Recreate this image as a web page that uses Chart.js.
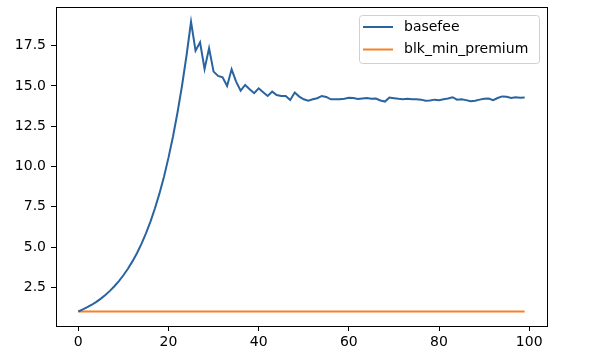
<!DOCTYPE html>
<html>
<head>
<meta charset="utf-8">
<script src="https://cdn.jsdelivr.net/npm/chart.js@4"></script>
<style>
  body { margin: 0; background: #fff; }
  #wrap { width: 600px; height: 352px; }
</style>
</head>
<body>
<div id="wrap"><canvas id="myChart"></canvas></div>
<script>
// block index 0..99
const blocks = Array.from({ length: 100 }, (_, i) => i);

// values
const basefee = [
    1.00, 1.13, 1.27, 1.42, 1.60, 1.80, 2.03, 2.28, 2.57, 2.89,
    3.25, 3.65, 4.11, 4.62, 5.20, 5.85, 6.58, 7.41, 8.33, 9.37,
    10.55, 11.86, 13.35, 15.01, 16.89, 18.98, 17.19, 17.71, 16.05, 17.34,
    15.89, 15.62, 15.54, 15.00, 16.03, 15.27, 14.71, 15.06, 14.79, 14.55,
    14.85, 14.61, 14.38, 14.65, 14.44, 14.38, 14.38, 14.13, 14.59, 14.34,
    14.17, 14.09, 14.17, 14.24, 14.38, 14.32, 14.17, 14.17, 14.17, 14.21,
    14.27, 14.25, 14.19, 14.22, 14.25, 14.20, 14.22, 14.10, 14.03, 14.28,
    14.24, 14.20, 14.18, 14.20, 14.18, 14.17, 14.15, 14.08, 14.10, 14.15,
    14.12, 14.18, 14.22, 14.30, 14.15, 14.18, 14.12, 14.05, 14.08, 14.15,
    14.20, 14.22, 14.12, 14.25, 14.35, 14.33, 14.25, 14.30, 14.27, 14.28
];
const blkMinPremium = [
    1, 1, 1, 1, 1, 1, 1, 1, 1, 1, 1, 1, 1, 1, 1, 1, 1, 1, 1, 1,
    1, 1, 1, 1, 1, 1, 1, 1, 1, 1, 1, 1, 1, 1, 1, 1, 1, 1, 1, 1,
    1, 1, 1, 1, 1, 1, 1, 1, 1, 1, 1, 1, 1, 1, 1, 1, 1, 1, 1, 1,
    1, 1, 1, 1, 1, 1, 1, 1, 1, 1, 1, 1, 1, 1, 1, 1, 1, 1, 1, 1,
    1, 1, 1, 1, 1, 1, 1, 1, 1, 1, 1, 1, 1, 1, 1, 1, 1, 1, 1, 1
];

const xTicks = [0, 20, 40, 60, 80, 100];
const yTicks = [2.5, 5.0, 7.5, 10.0, 12.5, 15.0, 17.5];

const FONT = 'DejaVu Sans';
const BLUE = '#2a64a0';
const ORANGE = '#f5822a';

// box round the plot, like the top/right spines
const frame = {
    id: 'frame',
    afterDatasetsDraw(chart) {
        const { ctx, chartArea: a } = chart;
        ctx.save();
        ctx.strokeStyle = '#000';
        ctx.lineWidth = 1;
        ctx.strokeRect(Math.round(a.left) + 0.5, Math.round(a.top) + 0.5,
            Math.round(a.right - a.left), Math.round(a.bottom - a.top));
        ctx.restore();
    }
};

// legend in the upper right corner with a rounded box
const boxLegend = {
    id: 'boxLegend',
    afterDraw(chart) {
        const { ctx, chartArea: a } = chart;
        const w = 180, h = 48;
        const x = a.right - 8 - w, y = a.top + 8;
        ctx.save();
        ctx.beginPath();
        ctx.roundRect(x + 0.5, y + 0.5, w, h, 3);
        ctx.fillStyle = 'rgba(255,255,255,0.8)';
        ctx.fill();
        ctx.strokeStyle = '#d0d0d0';
        ctx.lineWidth = 1;
        ctx.stroke();
        ctx.font = '14px "' + FONT + '"';
        ctx.textBaseline = 'middle';
        ctx.fillStyle = '#000';
        chart.data.datasets.forEach((ds, i) => {
            const ly = y + 12 + i * 22.5;
            ctx.beginPath();
            ctx.moveTo(x + 4, ly);
            ctx.lineTo(x + 34, ly);
            ctx.strokeStyle = ds.borderColor;
            ctx.lineWidth = 2;
            ctx.stroke();
            ctx.fillText(ds.label, x + 45, ly);
        });
        ctx.restore();
    }
};

const ctx = document.getElementById('myChart').getContext('2d');
new Chart(ctx, {
    type: 'line',
    data: {
        datasets: [{
            label: 'basefee',
            data: blocks.map((b, i) => ({ x: b, y: basefee[i] })),
            borderColor: BLUE,
            borderWidth: 2,
            pointRadius: 0,
            tension: 0
        }, {
            label: 'blk_min_premium',
            data: blocks.map((b, i) => ({ x: b, y: blkMinPremium[i] })),
            borderColor: ORANGE,
            borderWidth: 2,
            pointRadius: 0,
            tension: 0
        }]
    },
    options: {
        responsive: true,
        maintainAspectRatio: false,
        animation: false,
        layout: { padding: { left: 0, top: 7, right: 53, bottom: 0 } },
        scales: {
            x: {
                type: 'linear',
                min: -4.95,
                max: 103.95,
                afterBuildTicks: axis => { axis.ticks = xTicks.map(v => ({ value: v })); },
                afterFit: axis => {
                    axis.height = 26;
                    axis.paddingLeft = 0;
                    axis.paddingRight = 0;
                },
                grid: { drawOnChartArea: false, drawTicks: true, tickLength: 5, color: '#000' },
                border: { color: '#000', width: 1 },
                ticks: {
                    color: '#000',
                    padding: 3,
                    maxRotation: 0,
                    font: { family: FONT, size: 14 },
                    callback: v => String(v)
                }
            },
            y: {
                type: 'linear',
                min: 0.1,
                max: 19.9,
                afterBuildTicks: axis => { axis.ticks = yTicks.map(v => ({ value: v })); },
                afterFit: axis => {
                    axis.width = 56;
                    axis.paddingTop = 0;
                    axis.paddingBottom = 0;
                },
                grid: { drawOnChartArea: false, drawTicks: true, tickLength: 5, color: '#000' },
                border: { color: '#000', width: 1 },
                ticks: {
                    color: '#000',
                    padding: 5,
                    font: { family: FONT, size: 14 },
                    callback: v => v.toFixed(1)
                }
            }
        },
        plugins: {
            legend: { display: false },
            tooltip: { enabled: false }
        }
    },
    plugins: [frame, boxLegend]
});
</script>
</body>
</html>
